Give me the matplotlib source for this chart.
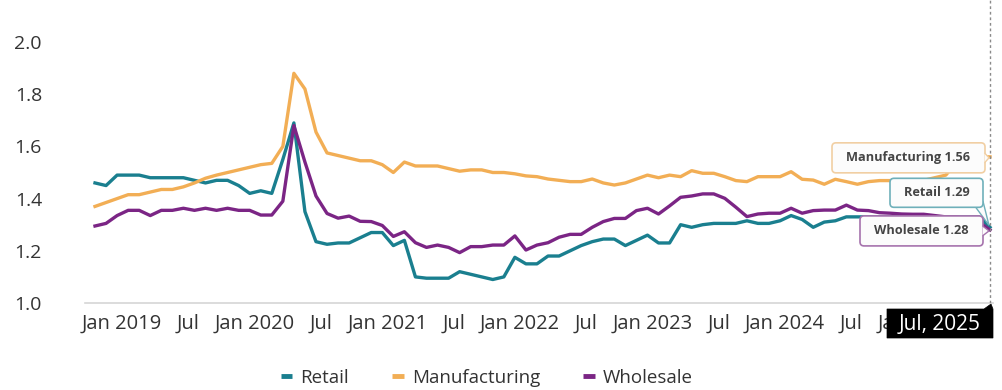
import matplotlib
matplotlib.use("Agg")
import matplotlib.pyplot as plt
import matplotlib.transforms as mtransforms
from matplotlib.patches import FancyBboxPatch, Polygon
from matplotlib.lines import Line2D
import numpy as np

plt.rcParams['font.family'] = ['Open Sans', 'DejaVu Sans']

# ---------------- data (monthly, Oct 2018 .. Jul 2025) ----------------
start_year, start_month = 2018, 10

retail = [1.46, 1.45, 1.49, 1.49, 1.49, 1.48, 1.48, 1.48, 1.48, 1.47, 1.46, 1.47,
          1.47, 1.45, 1.42, 1.43, 1.42, 1.55, 1.69, 1.35, 1.235, 1.225, 1.23, 1.23,
          1.25, 1.27, 1.27, 1.22, 1.24, 1.10, 1.095, 1.095, 1.095, 1.12, 1.11, 1.10,
          1.09, 1.10, 1.175, 1.15, 1.15, 1.18, 1.18, 1.20, 1.22, 1.235, 1.245, 1.245,
          1.22, 1.24, 1.26, 1.23, 1.23, 1.30, 1.29, 1.30, 1.305, 1.305, 1.305, 1.315,
          1.305, 1.305, 1.315, 1.335, 1.32, 1.29, 1.31, 1.315, 1.33, 1.33, 1.33, 1.33,
          1.33, 1.33, 1.33, 1.33, 1.33, 1.33, 1.33, 1.33, 1.33, 1.29]

manufacturing = [1.37, 1.385, 1.40, 1.415, 1.415, 1.425, 1.435, 1.435, 1.445, 1.46, 1.478, 1.49,
                 1.50, 1.51, 1.52, 1.53, 1.535, 1.60, 1.88, 1.82, 1.655, 1.575, 1.565, 1.555,
                 1.545, 1.545, 1.53, 1.50, 1.54, 1.525, 1.525, 1.525, 1.515, 1.505, 1.51, 1.51,
                 1.50, 1.50, 1.495, 1.487, 1.484, 1.475, 1.47, 1.465, 1.465, 1.475, 1.46, 1.452,
                 1.46, 1.475, 1.49, 1.48, 1.49, 1.484, 1.507, 1.497, 1.497, 1.484, 1.469, 1.465,
                 1.484, 1.484, 1.484, 1.503, 1.474, 1.471, 1.455, 1.474, 1.465, 1.455, 1.465, 1.469,
                 1.469, 1.47, 1.47, 1.47, 1.48, 1.49, 1.54, 1.56, 1.56, 1.56]

wholesale = [1.295, 1.305, 1.335, 1.355, 1.355, 1.335, 1.355, 1.355, 1.363, 1.355, 1.363, 1.355,
             1.363, 1.355, 1.355, 1.337, 1.337, 1.39, 1.68, 1.54, 1.41, 1.343, 1.325, 1.333,
             1.313, 1.312, 1.297, 1.255, 1.273, 1.231, 1.213, 1.222, 1.213, 1.193, 1.216, 1.216,
             1.222, 1.222, 1.257, 1.203, 1.222, 1.231, 1.252, 1.263, 1.263, 1.29, 1.312, 1.324,
             1.324, 1.354, 1.363, 1.341, 1.372, 1.405, 1.41, 1.418, 1.418, 1.401, 1.367, 1.331,
             1.341, 1.344, 1.344, 1.363, 1.344, 1.354, 1.356, 1.356, 1.375, 1.356, 1.354, 1.346,
             1.344, 1.341, 1.34, 1.34, 1.335, 1.33, 1.33, 1.32, 1.31, 1.28]

series_names = ["Retail", "Manufacturing", "Wholesale"]
tick_index = [3, 9, 15, 21, 27, 33, 39, 45, 51, 57, 63, 69, 75]
tick_labels = ["Jan 2019", "Jul", "Jan 2020", "Jul", "Jan 2021", "Jul", "Jan 2022", "Jul",
               "Jan 2023", "Jul", "Jan 2024", "Jul", "Jan 2025"]
y_ticks = [1.0, 1.2, 1.4, 1.6, 1.8, 2.0]
hover_label = "Jul, 2025"

colors = ["#1A7F8F", "#F2AE55", "#7B2585"]
border_colors = ["#6FB0BA", "#F1CFA3", "#A673AD"]
text_color = "#333333"

# ---------------- figure ----------------
W, H = 1003, 390
fig = plt.figure(figsize=(W / 100, H / 100), dpi=100)
fig.patch.set_facecolor("white")
ax = fig.add_axes([85 / W, (H - 303) / H, (993 - 85) / W, 303 / H])

x = np.arange(len(retail))
n_last = len(retail) - 1
px = 895 / n_last
ax.set_xlim(-10 / px, n_last + 3 / px)
ax.set_ylim(1.0, 1.0 + 303 / 261)

data = [retail, manufacturing, wholesale]
for vals, c in zip(data, colors):
    ax.plot(x, vals, color=c, lw=2.4, solid_joinstyle="round", zorder=3)

for s in ["top", "right", "left"]:
    ax.spines[s].set_visible(False)
ax.spines["bottom"].set_color("#d6d6d6")
ax.spines["bottom"].set_linewidth(1.2)

ax.set_yticks(y_ticks)
ax.set_yticklabels([f"{v:.1f}" for v in y_ticks])
ax.tick_params(axis="y", length=0, pad=31, labelsize=14, labelcolor=text_color)
ax.set_xticks(tick_index)
ax.set_xticklabels(tick_labels)
ax.tick_params(axis="x", length=0, pad=8, labelsize=14.5, labelcolor=text_color)
shift = mtransforms.ScaledTranslation(-6 / 100, 0, fig.dpi_scale_trans)
for lab in ax.get_xticklabels():
    lab.set_transform(lab.get_transform() + shift)

# hover line
ax.axvline(n_last, color="#8a8a8a", lw=1, ls=(0, (2, 2)), zorder=4)


def anchor(xv, yv):
    return mtransforms.Affine2D() + mtransforms.ScaledTranslation(xv, yv, ax.transData)


# callouts: (box left, box bottom, width, height) in pixels relative to point
boxes = {
    "Manufacturing": (-158, -16, 153, 30),
    "Retail": (-100, 20, 93, 29),
    "Wholesale": (-130, -16, 123, 30),
}
last_vals = {"Retail": retail[-1], "Manufacturing": manufacturing[-1], "Wholesale": wholesale[-1]}
for name, c, bc in zip(series_names, colors, border_colors):
    val = last_vals[name]
    tr = anchor(n_last, val)
    l, b, w, h = boxes[name]
    patch = FancyBboxPatch((l, b), w, h, boxstyle="round,pad=0,rounding_size=4",
                           fc="#FCFCFC", ec=bc, lw=1.2, transform=tr, clip_on=False, zorder=8)
    ax.add_patch(patch)
    if name == "Retail":
        tri = Polygon([(l + w - 8, b + 1), (l + w, b + 6), (-1, 2)], closed=True,
                      fc="#FCFCFC", ec=bc, lw=1.0, transform=tr, clip_on=False, zorder=7)
    else:
        cy = b + h / 2
        tri = Polygon([(l + w - 0.5, cy + 5), (-1, cy), (l + w - 0.5, cy - 5)], closed=False,
                      fc="#FCFCFC", ec=bc, lw=1.0, transform=tr, clip_on=False, zorder=9)
    ax.add_patch(tri)
    ax.text(l + w / 2, b + h / 2, f"{name} {val:.2f}", transform=tr, ha="center", va="center",
            fontsize=9.2, fontweight="bold", color="#454545", zorder=10, clip_on=False)

# date hover label
tr0 = anchor(n_last, 1.0)
ax.add_patch(Polygon([(-103, -35), (3, -35), (3, -6), (1, -1), (-6, -6), (-103, -6)], closed=True,
                     fc="black", ec="black", lw=0.5, transform=tr0, clip_on=False, zorder=11))
ax.text(-50, -21, hover_label, transform=tr0, ha="center", va="center", fontsize=15,
        color="white", zorder=12, clip_on=False)

# legend
handles = [Line2D([0], [0], color=c, lw=3.5, solid_capstyle="butt") for c in colors]
fig.legend(handles, series_names, loc="center", bbox_to_anchor=(487 / W, 1 - 378 / H), ncol=3,
           frameon=False, handlelength=0.6, handletextpad=0.45, columnspacing=2.3,
           fontsize=13.5, labelcolor=text_color)

fig.savefig("out.png", dpi=100, facecolor="white")
